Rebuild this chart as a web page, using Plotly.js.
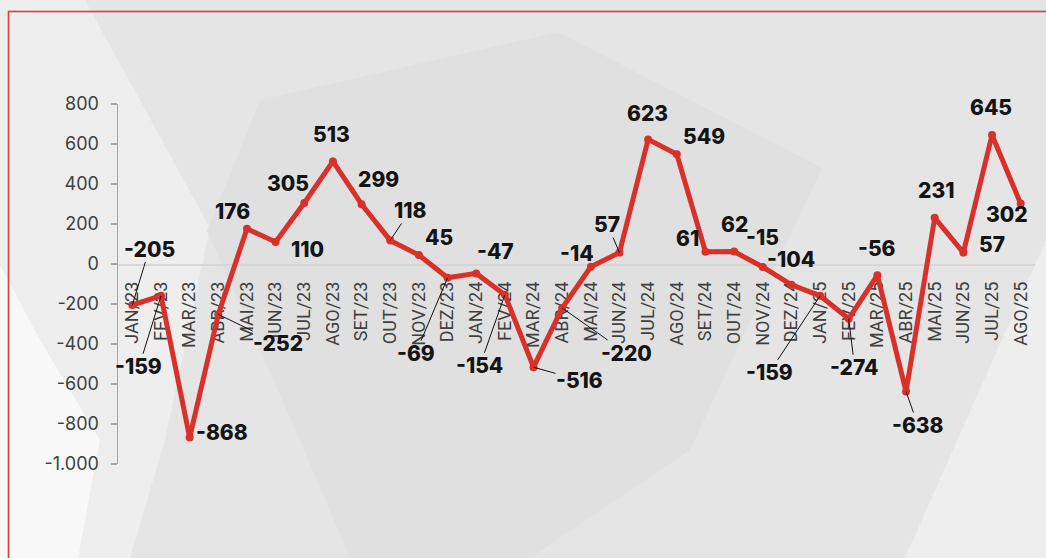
<!DOCTYPE html>
<html>
<head>
<meta charset="utf-8">
<script src="https://cdn.plot.ly/plotly-3.0.1.min.js"></script>
<style>
  html, body { margin: 0; padding: 0; width: 1046px; height: 558px; overflow: hidden; background: #e6e6e6; }
  #bg { position: absolute; left: 0; top: 0; }
  #chart { position: absolute; left: 0; top: 0; width: 1046px; height: 558px; }
</style>
</head>
<body>
<svg id="bg" width="1046" height="558" xmlns="http://www.w3.org/2000/svg">
  <rect x="0" y="0" width="1046" height="558" fill="#e5e5e5"/>
  <polygon points="0,0 85,0 210,228 165,440 130,558 0,558" fill="#eeeeee"/>
  <polygon points="0,265 40,340 100,440 78,558 0,558" fill="#f8f8f8"/>
  <polygon points="260,100 558,32 822,168 690,450 530,558 350,558 300,440 207,231" fill="#e0e0e0"/>
  <polygon points="1046,240 905,558 1046,558" fill="#eeeeee"/>
  <rect x="8.5" y="11.5" width="1060" height="600" fill="none" stroke="#e03a3a" stroke-width="1.6"/>
</svg>
<div id="chart"></div>
<script>
// ---- data ----
const months = ["JAN/23","FEV/23","MAR/23","ABR/23","MAI/23","JUN/23","JUL/23","AGO/23","SET/23","OUT/23","NOV/23","DEZ/23",
                "JAN/24","FEV/24","MAR/24","ABR/24","MAI/24","JUN/24","JUL/24","AGO/24","SET/24","OUT/24","NOV/24","DEZ/24",
                "JAN/25","FEV/25","MAR/25","ABR/25","MAI/25","JUN/25","JUL/25","AGO/25"];
const values = [-205,-159,-868,-252,176,110,305,513,299,118,45,-69,
                -47,-154,-516,-220,-14,57,623,549,61,62,-15,-104,
                -159,-274,-56,-638,231,57,645,302];
const yTickVals = [-1000,-800,-600,-400,-200,0,200,400,600,800];
const yTickText = ["-1.000","-800","-600","-400","-200","0","200","400","600","800"];

// ---- label placement (pixel offsets of label centre from its point; leader = draw line) ----
const labelDx = [17,-22,32,60,-14,32,-16,-1,17,20,20,-32, 19,-25,46,64,-14,-12,-1,27,-18,0,0,0, -51,6,0,12,1,29,-1,-14];
const labelDy = [-56,71,-5,29,-17,7,-20,-27,-25,-30,-18,76, -22,71,13,45,-13,-28,-26,-18,-13,-27,-30,-25, 77,49,-27,34,-27,-8,-28,11];
const labelLeader = [1,1,0,1,0,0,0,0,0,1,0,1, 0,1,1,1,0,1,0,0,0,0,0,0, 1,1,0,1,0,0,0,0];

function fmt(v){ return (v < 0 ? "-" : "") + Math.abs(v).toString(); }

const annotations = months.map((m, i) => {
  const base = {
    x: m, y: values[i], xref: "x", yref: "y",
    text: fmt(values[i]),
    font: { family: "Inter, Roboto, sans-serif", size: 21, color: "#141414", weight: 800 },
    borderpad: 0
  };
  if (labelLeader[i]) {
    return Object.assign(base, {
      showarrow: true, arrowhead: 0, arrowwidth: 1, arrowcolor: "#111", standoff: 0,
      ax: labelDx[i], ay: labelDy[i]
    });
  }
  return Object.assign(base, {
    showarrow: false, xanchor: "center", yanchor: "middle",
    xshift: labelDx[i], yshift: -labelDy[i]
  });
});

const trace = {
  x: months, y: values, type: "scatter", mode: "lines+markers",
  line: { color: "#d8312a", width: 5 },
  marker: { color: "#d8312a", size: 8 },
  cliponaxis: false, hoverinfo: "skip"
};

const layout = {
  width: 1046, height: 558, autosize: false,
  margin: { l: 118, r: 11, t: 104, b: 94, pad: 0 },
  paper_bgcolor: "rgba(0,0,0,0)", plot_bgcolor: "rgba(0,0,0,0)",
  showlegend: false,
  xaxis: {
    type: "category", range: [-0.5, 31.5],
    anchor: "free", position: 1000 / 1800,
    showline: true, linecolor: "#d6d6d6", linewidth: 1.5,
    ticks: "", tickangle: -90, showgrid: false, zeroline: false,
    tickfont: { family: "Roboto, sans-serif", size: 18, color: "#404040" },
    ticklabelstandoff: 9,
    layer: "below traces", fixedrange: true
  },
  yaxis: {
    range: [-1000, 800], tickvals: yTickVals, ticktext: yTickText,
    showline: true, linecolor: "#a6a6a6", linewidth: 1.5,
    ticks: "outside", ticklen: 6, tickwidth: 1.5, tickcolor: "#a6a6a6",
    showgrid: false, zeroline: false,
    tickfont: { family: "Inter, Roboto, sans-serif", size: 18, color: "#404040" },
    ticklabelstandoff: 8,
    layer: "below traces", fixedrange: true
  },
  annotations: annotations
};

Plotly.newPlot("chart", [trace], layout, { staticPlot: true, displayModeBar: false });
</script>
</body>
</html>
